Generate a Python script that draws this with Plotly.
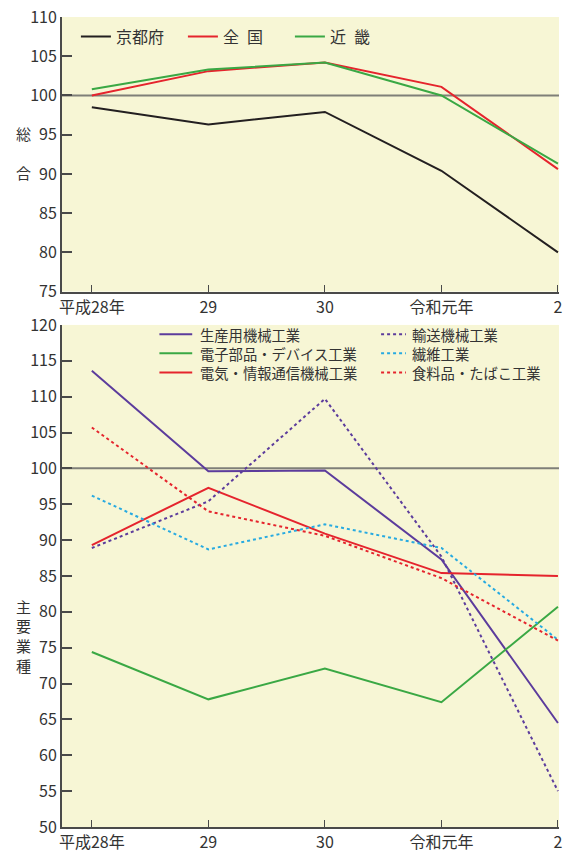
import plotly.graph_objects as go
from plotly.subplots import make_subplots

# Years (x categories)
years = ["平成28年", "29", "30", "令和元年", "2"]

# Overall index (総合)
kyoto = [98.5, 96.3, 97.9, 90.4, 80.0]
zenkoku = [100.0, 103.1, 104.2, 101.1, 90.6]
kinki = [100.8, 103.3, 104.2, 100.0, 91.3]

# Main industries (主要業種)
seisanyo = [113.6, 99.6, 99.7, 87.3, 64.5]
denshi = [74.4, 67.8, 72.1, 67.4, 80.7]
denki = [89.3, 97.3, 90.9, 85.4, 85.0]
yuso = [88.9, 95.4, 109.7, 87.7, 55.0]
seni = [96.2, 88.7, 92.2, 88.9, 76.1]
shokuryo = [105.7, 94.0, 90.6, 84.7, 76.0]

BG = "#f7f6d5"
AXIS = "#4a4a4a"
TXT = "#333333"
NUM_FONT = "Noto Sans CJK JP, sans-serif"
JP_FONT = "Noto Sans CJK JP, sans-serif"

BLACK = "#231f20"
RED = "#e5242d"
GREEN = "#3aa844"
PURPLE = "#5c3c9c"
CYAN = "#27aae1"
DOTTED = "3px,3px"

W, H = 566, 857
L, R, T, B = 62, 4, 12, 19
pw = W - L - R
ph = H - T - B


def px_x(px):
    return (px - L) / pw


def px_y(px):
    return (H - B - px) / ph


fig = make_subplots(rows=2, cols=1, vertical_spacing=0.0)

top = [("京都府", kyoto, BLACK), ("全\u2002国", zenkoku, RED), ("近\u2002畿", kinki, GREEN)]
for name, vals, col in top:
    fig.add_trace(go.Scatter(x=years, y=vals, name=name, mode="lines",
                             line=dict(color=col, width=2)),
                  row=1, col=1)

# Industry series: (name, values, colour, dash, legend column, legend row)
industries = [
    ("生産用機械工業", seisanyo, PURPLE, "solid", 0, 0),
    ("電子部品・デバイス工業", denshi, GREEN, "solid", 0, 1),
    ("電気・情報通信機械工業", denki, RED, "solid", 0, 2),
    ("輸送機械工業", yuso, PURPLE, DOTTED, 1, 0),
    ("繊維工業", seni, CYAN, DOTTED, 1, 1),
    ("食料品・たばこ工業", shokuryo, RED, DOTTED, 1, 2),
]
for name, vals, col, dash, _, _ in industries:
    fig.add_trace(go.Scatter(x=years, y=vals, name=name, mode="lines", showlegend=False,
                             line=dict(color=col, width=2, dash=dash)),
                  row=2, col=1)

# Two-column key for the industry panel
key_cols = [(160, 193, 200), (383, 408, 413)]
key_rows = [335.5, 355, 374.5]
for name, _, col, dash, c, r in industries:
    x0, x1, xt = key_cols[c]
    yy = px_y(key_rows[r])
    fig.add_shape(type="line", xref="paper", yref="paper", x0=px_x(x0), x1=px_x(x1),
                  y0=yy, y1=yy, line=dict(color=col, width=2, dash=dash))
    fig.add_annotation(text=name, xref="paper", yref="paper", x=px_x(xt), y=yy,
                       xanchor="left", yanchor="middle", showarrow=False, borderpad=0,
                       font=dict(family=JP_FONT, size=14.3, color=TXT))

xr = [-0.256, 4.009]
common_x = dict(type="category", range=xr, showline=True, linecolor=AXIS, linewidth=2,
                ticks="inside", ticklen=7, tickcolor=AXIS, tickwidth=1,
                showgrid=False, zeroline=False,
                tickfont=dict(family=NUM_FONT, size=16, color=TXT))
common_y = dict(showline=True, linecolor=AXIS, linewidth=2, ticks="inside", ticklen=10,
                tickcolor=AXIS, tickwidth=2, showgrid=False, zeroline=False, dtick=5,
                tickfont=dict(family=NUM_FONT, size=16, color=TXT))

fig.update_layout(
    width=W, height=H,
    margin=dict(l=L, r=R, t=T, b=B),
    paper_bgcolor="white",
    plot_bgcolor=BG,
    xaxis=dict(common_x, domain=[0, 1], anchor="y"),
    yaxis=dict(common_y, domain=[px_y(292), 1], range=[75, 110]),
    xaxis2=dict(common_x, domain=[0, 1], anchor="y2"),
    yaxis2=dict(common_y, domain=[0, px_y(326)], range=[50, 120]),
    legend=dict(orientation="h", x=px_x(76), y=px_y(32), xanchor="left",
                yanchor="middle", bgcolor="rgba(0,0,0,0)", entrywidth=62,
                font=dict(family=JP_FONT, size=16, color=TXT)),
    showlegend=True,
)

# Reference line at 100 in both panels
for xref, yref in (("x domain", "y"), ("x2 domain", "y2")):
    fig.add_shape(type="line", xref=xref, yref=yref, x0=0, x1=1, y0=100, y1=100,
                  line=dict(color="#7f7f78", width=2), layer="below")

# Vertical axis titles, one character per line
for ch, ypx in (("総", 131), ("合", 171), ("主", 613), ("要", 633), ("業", 653), ("種", 673)):
    fig.add_annotation(text=ch, xref="paper", yref="paper", x=px_x(23), y=px_y(ypx),
                       xanchor="center", yanchor="middle", showarrow=False, borderpad=0,
                       font=dict(family=JP_FONT, size=15, color=TXT))

fig.write_html("out.html")
